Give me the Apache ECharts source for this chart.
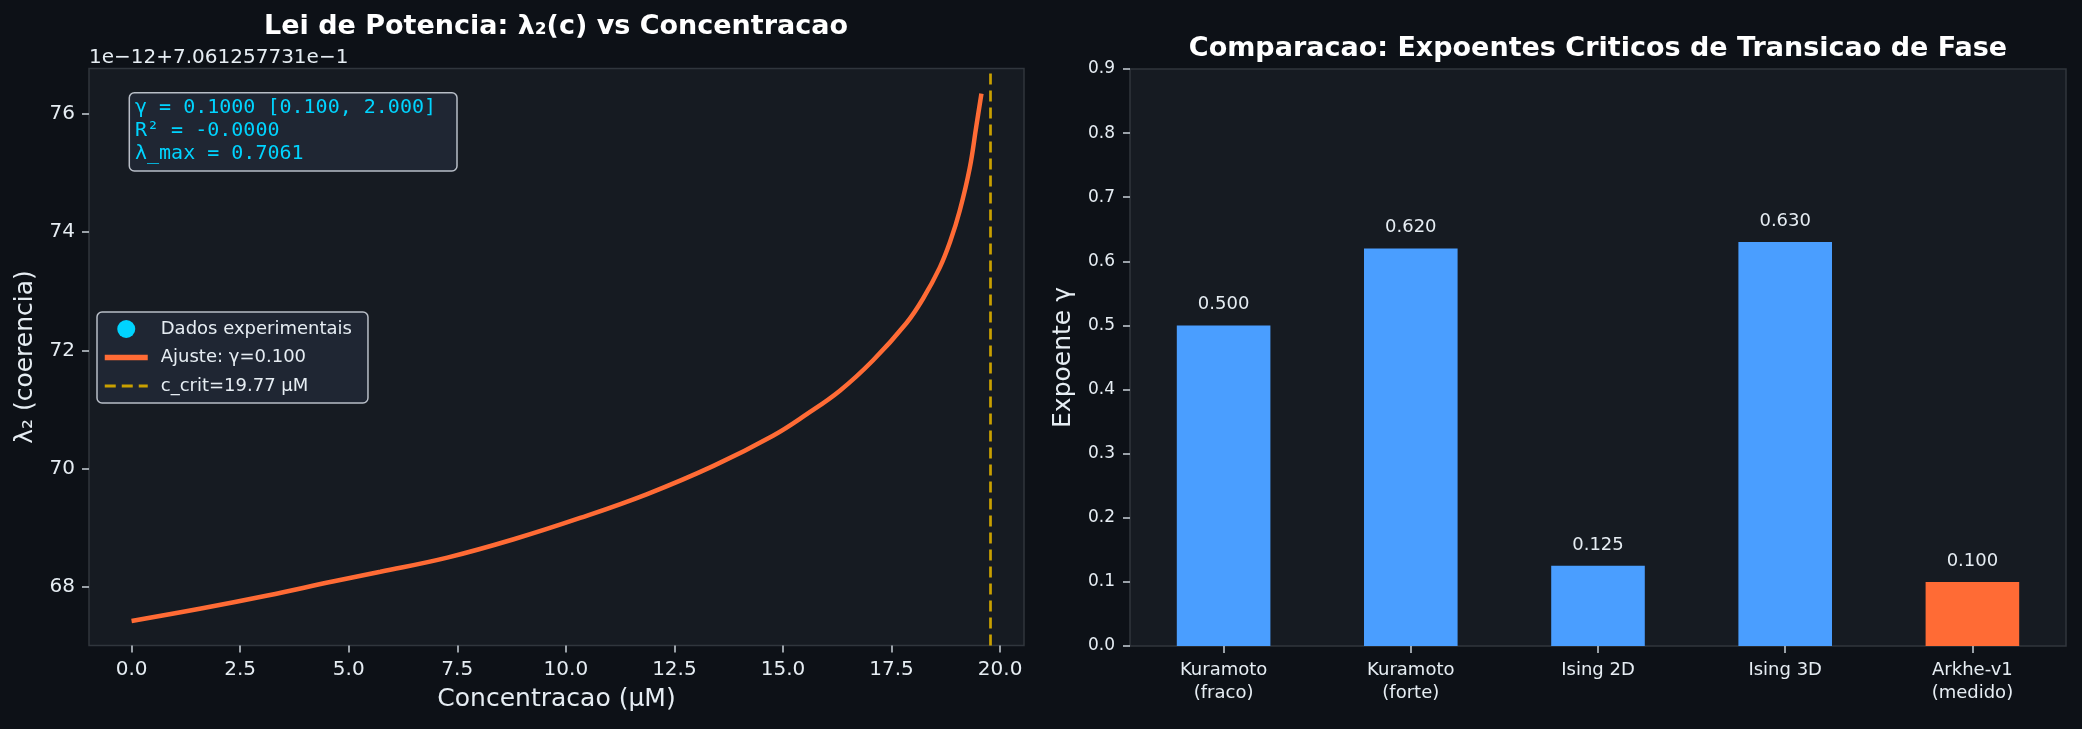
<!DOCTYPE html>
<html><head><meta charset="utf-8">
<script src="https://cdn.jsdelivr.net/npm/echarts@6/dist/echarts.min.js"></script>
<style>html,body{margin:0;padding:0;background:#0d1117;}#c{width:2082px;height:729px;}</style>
</head><body><div id="c"></div>
<script>
// ---- Left panel data (λ₂ in units of 1e-12, offset 7.061257731e-1) ----
const concX   = [0, 1.6, 3.13, 4.66, 5.73, 7.27, 8.80, 10.33, 11.86, 13.40, 14.77, 15.54, 16.31, 17.07, 17.84, 18.22, 18.61, 18.85, 19.07, 19.3, 19.45, 19.57];
const lambdaY = [67.43, 67.64, 67.86, 68.10, 68.26, 68.50, 68.81, 69.17, 69.57, 70.05, 70.56, 70.92, 71.32, 71.83, 72.46, 72.87, 73.40, 73.84, 74.36, 75.08, 75.78, 76.34];
const cCrit = 19.77;
const xTicks = [0, 2.5, 5, 7.5, 10, 12.5, 15, 17.5, 20];
const yTicks = [68, 70, 72, 74, 76];
const yOffsetText = '1e\u221212+7.061257731e\u22121';
const statsLines = ['\u03b3 = 0.1000 [0.100, 2.000]', 'R\u00b2 = -0.0000', '\u03bb_max = 0.7061'];
const legendNames = ['Dados experimentais', 'Ajuste: \u03b3=0.100', 'c_crit=19.77 \u03bcM'];

// ---- Right panel data ----
const categories = ['Kuramoto\n(fraco)', 'Kuramoto\n(forte)', 'Ising 2D', 'Ising 3D', 'Arkhe-v1\n(medido)'];
const exponents  = [0.5, 0.62, 0.125, 0.63, 0.1];
const barColors  = ['#4a9eff', '#4a9eff', '#4a9eff', '#4a9eff', '#ff6b35'];

const FONT = 'DejaVu Sans';
const TXT = '#e6edf3';
const SPINE = '#30363d';
const TICK = '#c9d1d9';
const HIDE_SYMBOL = {color: 'rgba(0,0,0,0)', borderColor: 'rgba(0,0,0,0)', borderWidth: 0};

const chart = echarts.init(document.getElementById('c'), null, {renderer: 'canvas'});
chart.setOption({
  backgroundColor: '#0d1117',
  textStyle: {fontFamily: FONT},
  animation: false,
  grid: [
    {left: 89, right: 1058, top: 68.5, bottom: 83.5, show: true, backgroundColor: '#161b22', borderColor: SPINE, borderWidth: 1.5},
    {left: 1130, right: 16, top: 69, bottom: 83, show: true, backgroundColor: '#161b22', borderColor: SPINE, borderWidth: 1.5}
  ],
  xAxis: [
    {type: 'value', gridIndex: 0, min: -0.98, max: 20.55,
     axisLine: {show: false, onZero: false},
     axisTick: {show: true, customValues: xTicks, length: 7, lineStyle: {color: TICK, width: 1.5}},
     axisLabel: {customValues: xTicks, formatter: v => v.toFixed(1), color: TXT, fontSize: 20, margin: 14, fontFamily: FONT},
     splitLine: {show: false},
     name: 'Concentracao (\u03bcM)', nameLocation: 'middle', nameGap: 41,
     nameTextStyle: {color: TXT, fontSize: 25, fontFamily: FONT}},
    {type: 'category', gridIndex: 1, data: categories,
     axisLine: {show: false, onZero: false},
     axisTick: {show: true, alignWithLabel: true, length: 7, lineStyle: {color: TICK, width: 1.5}},
     axisLabel: {color: TXT, fontSize: 18, lineHeight: 23, margin: 13, fontFamily: FONT},
     splitLine: {show: false}}
  ],
  yAxis: [
    {type: 'value', gridIndex: 0, min: 67.015, max: 76.764,
     axisLine: {show: false, onZero: false},
     axisTick: {show: true, customValues: yTicks, length: 7, lineStyle: {color: TICK, width: 1.5}},
     axisLabel: {customValues: yTicks, formatter: v => String(v), color: TXT, fontSize: 20, margin: 14, fontFamily: FONT},
     splitLine: {show: false},
     name: '\u03bb\u2082 (coerencia)', nameLocation: 'middle', nameGap: 51,
     nameTextStyle: {color: TXT, fontSize: 25, fontFamily: FONT}},
    {type: 'value', gridIndex: 1, min: 0, max: 0.9, interval: 0.1,
     axisLine: {show: false, onZero: false},
     axisTick: {show: true, length: 7, lineStyle: {color: TICK, width: 1.5}},
     axisLabel: {formatter: v => v.toFixed(1), color: TXT, fontSize: 17, margin: 15, fontFamily: FONT},
     splitLine: {show: false},
     name: 'Expoente \u03b3', nameLocation: 'middle', nameGap: 54,
     nameTextStyle: {color: TXT, fontSize: 25, fontFamily: FONT}}
  ],
  legend: {
    data: [
      {name: legendNames[0], icon: 'circle', itemStyle: {color: '#00d4ff'}},
      {name: legendNames[1], itemStyle: HIDE_SYMBOL, lineStyle: {width: 5.5}},
      {name: legendNames[2], itemStyle: HIDE_SYMBOL, lineStyle: {width: 3}}
    ],
    orient: 'vertical', left: 97, top: 312,
    padding: [8, 16, 8, 5], itemWidth: 43, itemHeight: 18, itemGap: 10.5,
    backgroundColor: '#1f2633', borderColor: '#b8bec7', borderWidth: 1.5, borderRadius: 5,
    textStyle: {color: TXT, fontSize: 18, fontFamily: FONT, padding: [0, 0, 0, 8]},
    selectedMode: false
  },
  graphic: [
    {type: 'text', x: 556, y: 27, style: {text: 'Lei de Potencia: \u03bb\u2082(c) vs Concentracao', fill: '#ffffff', font: 'bold 27px "DejaVu Sans"', textAlign: 'center', textVerticalAlign: 'middle'}},
    {type: 'text', x: 1598, y: 48.5, style: {text: 'Comparacao: Expoentes Criticos de Transicao de Fase', fill: '#ffffff', font: 'bold 27px "DejaVu Sans"', textAlign: 'center', textVerticalAlign: 'middle'}},
    {type: 'text', x: 89, y: 57.5, style: {text: yOffsetText, fill: TXT, font: '20px "DejaVu Sans"', textAlign: 'left', textVerticalAlign: 'middle'}},
    {type: 'rect', shape: {x: 129.3, y: 92.7, width: 327.7, height: 78.3, r: 5}, style: {fill: '#1f2633', stroke: '#b8bec7', lineWidth: 1.5}, z: 10},
    {type: 'text', x: 135, y: 96, z: 11, style: {text: statsLines.join('\n'), fill: '#00d4ff', font: '20px "DejaVu Sans Mono"', lineHeight: 23.2, textAlign: 'left', textVerticalAlign: 'top'}}
  ],
  series: [
    {name: legendNames[0], type: 'scatter', xAxisIndex: 0, yAxisIndex: 0, data: [], itemStyle: {color: '#00d4ff', opacity: 1}},
    {name: legendNames[1], type: 'line', xAxisIndex: 0, yAxisIndex: 0,
     data: concX.map((x, i) => [x, lambdaY[i]]),
     symbol: 'none', showSymbol: false, smooth: 0.4,
     lineStyle: {color: '#ff6b35', width: 4.5}, itemStyle: {color: '#ff6b35'}, z: 3},
    {name: legendNames[2], type: 'line', xAxisIndex: 0, yAxisIndex: 0, data: [],
     symbol: 'none', showSymbol: false,
     lineStyle: {color: '#c9a000', width: 2.7, type: [11, 6]}, itemStyle: {color: '#c9a000'},
     markLine: {symbol: 'none', silent: true, label: {show: false},
       lineStyle: {color: '#c9a000', width: 2.7, type: [11, 6]},
       data: [{xAxis: cCrit}]}, z: 4},
    {type: 'bar', xAxisIndex: 1, yAxisIndex: 1, barWidth: '50%',
     data: exponents.map((v, i) => ({value: v, itemStyle: {color: barColors[i]}})),
     label: {show: true, position: 'top', distance: 12, formatter: p => p.value.toFixed(3), color: TXT, fontSize: 18, fontFamily: FONT}}
  ]
});
</script></body></html>
